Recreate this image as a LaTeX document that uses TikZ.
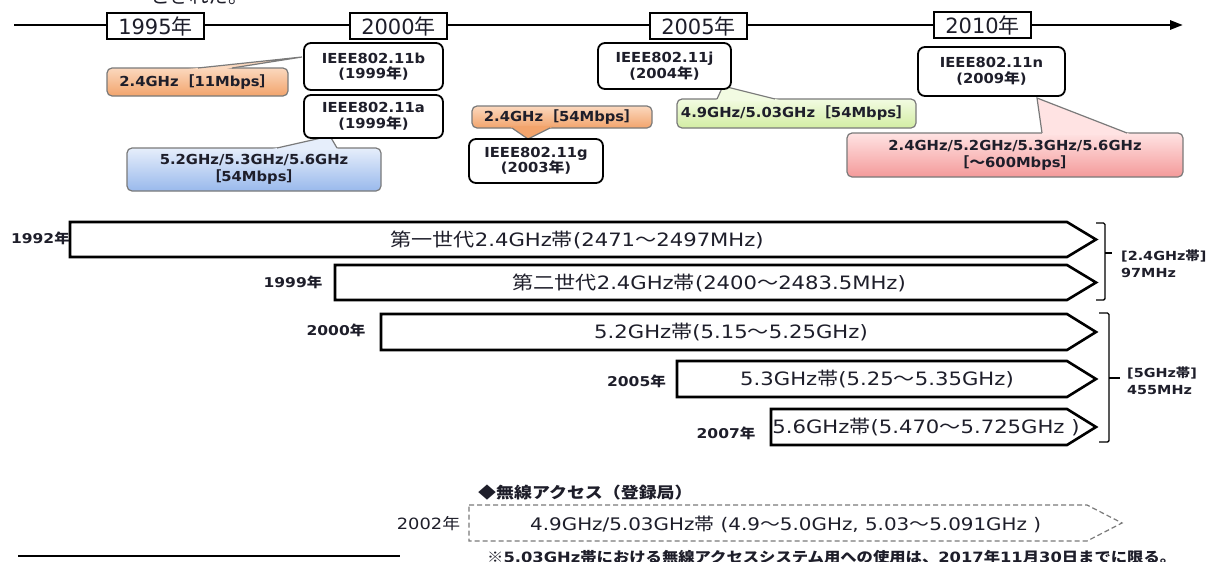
\documentclass[tikz,border=0pt]{standalone}
\usepackage{fontspec}
\setmainfont{DejaVu Sans}[FakeStretch=1.15]
\newfontfamily\plainf{DejaVu Sans}
\newfontfamily\boxf{DejaVu Sans}[FakeStretch=1.07]
\newfontfamily\jp{Noto Sans CJK JP}[FakeStretch=1.15]
\newfontfamily\jpn{Noto Sans CJK JP}
\usetikzlibrary{arrows.meta}
\newcommand\J[1]{{\jp #1}}
\newcommand\Jn[1]{{\jpn #1}}
\newcommand\fsz[2]{\fontsize{#1}{#2}\selectfont}
\definecolor{ink}{HTML}{1E1E2A}
\definecolor{cgray}{HTML}{7A7A7A}
\definecolor{orT}{HTML}{FBD8BE}
\definecolor{orB}{HTML}{F2A46C}
\definecolor{blT}{HTML}{E6EEFB}
\definecolor{blB}{HTML}{99B9EC}
\definecolor{grT}{HTML}{F2FBE2}
\definecolor{grB}{HTML}{D3EDA3}
\definecolor{rdT}{HTML}{FFE3E3}
\definecolor{rdB}{HTML}{F49A9A}
\begin{document}
\begin{tikzpicture}[x=1pt,y=-1pt,
  timeline/.style={line width=2.8pt, draw=black, -{Triangle[length=13pt,width=9pt]}},
  yearbox/.style={draw=black, line width=2.4pt, fill=white, minimum width=97pt, minimum height=26pt, inner sep=0pt, text=ink, font=\plainf\fsz{21}{24}},
  ieee/.style={draw=black, line width=1.8pt, fill=white, rounded corners=7pt, align=center, inner sep=0pt, text=ink, font=\boxf\bfseries\fsz{13.8}{15.5}},
  callbody/.style={draw=cgray, line width=1.2pt, rounded corners=5pt, align=center, inner sep=0pt, text=ink, font=\boxf\bfseries\fsz{13.8}{17}},
  callline/.style={draw=cgray, line width=1.2pt, line join=miter},
  band/.style={draw=black, line width=2.6pt, fill=white, line join=miter},
  bandtxt/.style={inner sep=0pt, text=ink, font=\fsz{18.4}{22}},
  lab/.style={inner sep=0pt, text=ink, font=\bfseries\fsz{13.5}{16}},
  brk/.style={draw=black, line width=1.4pt, rounded corners=1.5pt},
  brktxt/.style={inner sep=0pt, text=ink, align=left, font=\bfseries\fsz{12.5}{17}},
  dashband/.style={draw=cgray, line width=1.2pt, dash pattern=on 5pt off 3pt, line join=miter}
]
\useasboundingbox (0,0) rectangle (1208,562);
\fill[white] (0,0) rectangle (1208,562);

% cropped text at the top
\node[anchor=base west, inner sep=0pt, text=ink, font=\jpn\fsz{19.5}{23}] (toptext) at (150,3) {とされた。};

% timeline
\coordinate (tlstart) at (14,25);
\coordinate (tlend) at (1183,25);
\draw[timeline] (tlstart) -- (tlend);
\node[yearbox] (y1995) at (155.5,26) {1995\Jn{年}};
\node[yearbox] (y2000) at (398.5,26) {2000\Jn{年}};
\node[yearbox] (y2005) at (698.5,26) {2005\Jn{年}};
\node[yearbox] (y2010) at (982.5,25) {2010\Jn{年}};

% callouts
\node[callbody, top color=orT, bottom color=orB, minimum width=181pt, minimum height=28pt] (c11b) at (197.5,82) {2.4GHz\J{［}11Mbps\J{］}};
\fill[orT] (179.1,70) -- (302,57) -- (219.3,70) -- cycle;
\draw[callline] (198,68) -- (302,57) -- (232,68);

\node[callbody, top color=blT, bottom color=blB, minimum width=254pt, minimum height=43pt] (c11a) at (254,169.5) {5.2GHz/5.3GHz/5.6GHz\\\J{［}54Mbps\J{］}};
\fill[blT] (268.2,150) -- (330,136) -- (338.2,150) -- cycle;
\draw[callline] (277,148) -- (330,136) -- (337,148);

\node[callbody, top color=orT, bottom color=orB, minimum width=180pt, minimum height=22pt] (c11g) at (562,117) {2.4GHz\J{［}54Mbps\J{］}};
\fill[orB] (509.1,126) -- (528,139) -- (554,126) -- cycle;
\draw[callline] (512,128) -- (528,139) -- (550,128);

\node[callbody, top color=grT, bottom color=grB, minimum width=239pt, minimum height=29pt] (c11j) at (796.5,113.5) {4.9GHz/5.03GHz\J{［}54Mbps\J{］}};
\fill[grT] (716.1,101) -- (723,86) -- (783,101) -- cycle;
\draw[callline] (717,99) -- (723,86) -- (775,99);

\node[callbody, top color=rdT, bottom color=rdB, minimum width=336pt, minimum height=44pt] (c11n) at (1015,155) {2.4GHz/5.2GHz/5.3GHz/5.6GHz\\\J{［～}600Mbps\J{］}};
\fill[rdT] (1042.3,135) -- (1037,98) -- (1132.1,135) -- cycle;
\draw[callline] (1042,133) -- (1037,98) -- (1127,133);

% standard boxes
\node[ieee, minimum width=139pt, minimum height=47pt] (n11b) at (373.5,66.5) {IEEE802.11b\\(1999\J{年})};
\node[ieee, minimum width=139pt, minimum height=43pt] (n11a) at (373.5,116.5) {IEEE802.11a\\(1999\J{年})};
\node[ieee, minimum width=134pt, minimum height=44pt] (n11g) at (536,161) {IEEE802.11g\\(2003\J{年})};
\node[ieee, minimum width=133pt, minimum height=46pt] (n11j) at (664.5,66) {IEEE802.11j\\(2004\J{年})};
\node[ieee, minimum width=147pt, minimum height=49pt] (n11n) at (991.5,71.5) {IEEE802.11n\\(2009\J{年})};

% frequency bands
\draw[band] (70,222) -- (1067,222) -- (1096,239.5) -- (1067,257) -- (70,257) -- cycle;
\draw[band] (335,265) -- (1067,265) -- (1096,282.5) -- (1067,300) -- (335,300) -- cycle;
\draw[band] (381,314) -- (1067,314) -- (1096,332) -- (1067,350) -- (381,350) -- cycle;
\draw[band] (677,361) -- (1067,361) -- (1096,379) -- (1067,397) -- (677,397) -- cycle;
\draw[band] (771,409) -- (1067,409) -- (1096,427) -- (1067,445) -- (771,445) -- cycle;

\node[bandtxt] (t1) at (577,240) {\J{第一世代}2.4GHz\J{帯}(2471\J{～}2497MHz)};
\node[bandtxt] (t2) at (709,283) {\J{第二世代}2.4GHz\J{帯}(2400\J{～}2483.5MHz)};
\node[bandtxt] (t3) at (731,332) {5.2GHz\J{帯}(5.15\J{～}5.25GHz)};
\node[bandtxt] (t4) at (877,379) {5.3GHz\J{帯}(5.25\J{～}5.35GHz)};
\node[bandtxt] (t5) at (926,427) {5.6GHz\J{帯}(5.470\J{～}5.725GHz )};

\node[lab, anchor=east] (l1992) at (70,238) {1992\J{年}};
\node[lab] (l1999) at (293,282) {1999\J{年}};
\node[lab] (l2000) at (336,330) {2000\J{年}};
\node[lab] (l2005) at (636.5,381) {2005\J{年}};
\node[lab] (l2007) at (726,433) {2007\J{年}};

% brackets
\draw[brk] (1096,223) -- (1105,223) -- (1105,300) -- (1096,300);
\draw[brk] (1105,253) -- (1112,253);
\node[brktxt, anchor=west] (br24) at (1121,264) {[2.4GHz\J{帯}]\\97MHz};
\draw[brk] (1099,313) -- (1109,313) -- (1109,442) -- (1099,442);
\draw[brk] (1109,378) -- (1120,378);
\node[brktxt, anchor=west] (br5) at (1127,381) {[5GHz\J{帯}]\\455MHz};

% registered radio access
\node[anchor=west, inner sep=0pt, text=ink, font=\bfseries\jp\fsz{15.6}{18}] (rahead) at (478,493) {◆無線アクセス（登録局）};
\draw[dashband] (469,505) -- (1087,505) -- (1122,523) -- (1087,541) -- (469,541) -- cycle;
\node[inner sep=0pt, text=ink, font=\fsz{15.5}{18}] (l2002) at (428.5,524) {2002\J{年}};
\node[anchor=west, inner sep=0pt, text=ink, font=\fsz{17.3}{20}] (rabody) at (530,524) {4.9GHz/5.03GHz\J{帯} (4.9\J{～}5.0GHz, 5.03\J{～}5.091GHz )};
\node[anchor=west, inner sep=0pt, text=ink, font=\bfseries\fsz{14.2}{17}] (foot) at (487,557) {\J{※}5.03GHz\J{帯における無線アクセスシステム用への使用は、}2017\J{年}11\J{月}30\J{日までに限る。}};
\coordinate (fl1) at (18,556);
\coordinate (fl2) at (400,556);
\draw[line width=1.3pt] (fl1) -- (fl2);
\end{tikzpicture}
\end{document}
